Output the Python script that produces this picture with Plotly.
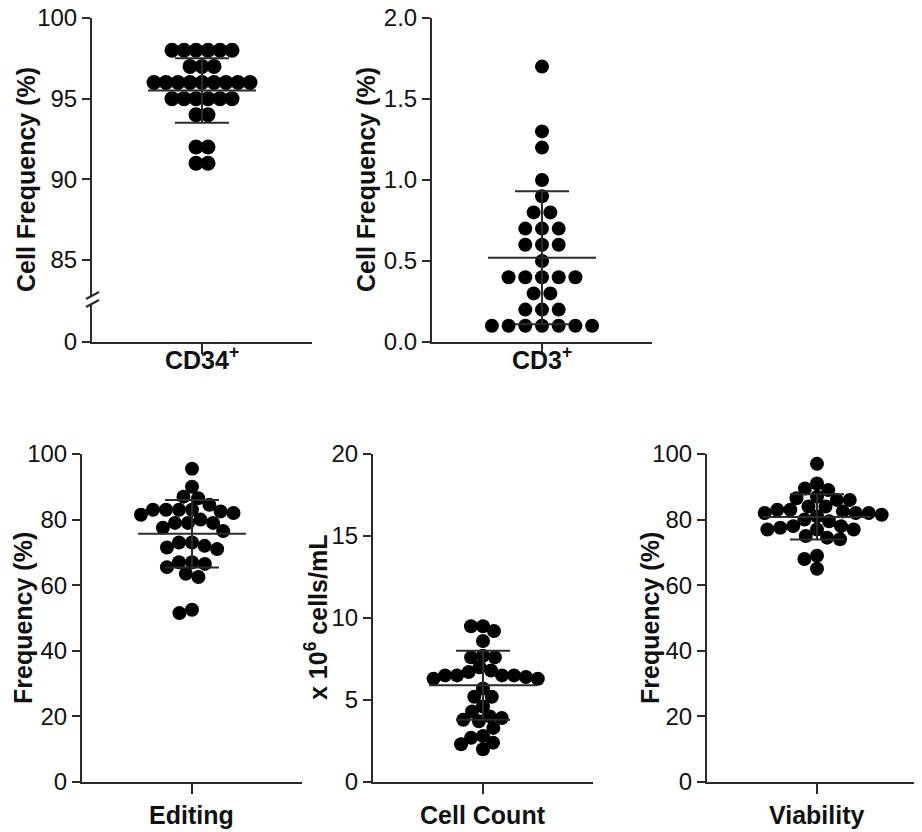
import math
import plotly.graph_objects as go

# ---------------- data ----------------
cd34_values = [98, 98, 98, 98, 98, 98, 97, 97, 97, 96, 96, 96, 96, 96, 96, 96, 96, 96,
               95, 95, 95, 95, 95, 95, 94, 94, 92, 92, 91, 91]
cd3_values = [1.7, 1.3, 1.2, 1.0, 0.9, 0.8, 0.8, 0.7, 0.7, 0.7, 0.6, 0.6, 0.6, 0.5,
              0.4, 0.4, 0.4, 0.4, 0.4, 0.3, 0.3, 0.2, 0.2, 0.2,
              0.1, 0.1, 0.1, 0.1, 0.1, 0.1, 0.1]
editing_values = [95.5, 90, 87, 86.5, 84.5, 83, 83, 83, 82.5, 83, 82, 81.5, 80, 79, 79, 79,
                  77.5, 76.5, 73, 73, 72, 71.5, 71, 67, 67, 66.5, 65.5, 63.5, 62.5, 52.5, 51.5]
cellcount_values = [9.5, 9.5, 9.2, 8.6, 7.7, 7.6, 7.6, 7.0, 6.8, 6.7, 6.5, 6.5, 6.5, 6.5,
                    6.4, 6.3, 6.3, 5.7, 5.2, 5.2, 4.6, 4.3, 4.0, 3.9, 3.8, 3.7, 3.3, 2.8,
                    2.7, 2.4, 2.3, 2.0]
viability_values = [97, 91, 89.5, 89, 87, 86.5, 86, 86, 84, 84, 83, 83, 82.5, 82, 82, 82,
                    81.5, 81, 80, 79.5, 78, 78, 77.5, 77, 77, 77, 75, 74.5, 74, 69, 68, 65]

categories = ["CD34<sup>+</sup>", "CD3<sup>+</sup>", "Editing", "Cell Count", "Viability"]
y_titles = ["Cell Frequency (%)", "Cell Frequency (%)", "Frequency (%)",
            "x 10<sup>6</sup> cells/mL", "Frequency (%)"]
means = [95.5, 0.52, 75.7, 5.9, 80.8]
sds = [2.0, 0.41, 10.3, 2.1, 6.9]

# ---------------- layout helpers ----------------
# the page body has an 8 px margin, so the figure starts at (8, 8) in the window
OFF = 8
FW, FH = 922 - OFF, 832 - OFF
def fx(px):
    return (px - OFF) / FW
def fy(py):
    return 1 - (py - OFF) / FH

PX_PER_X = 110.0  # pixels per x-data unit (x range [-1, 1] over 220 px)
LINE_COL = "#2b2b2b"
DOT_COL = "#000000"
FONT = "Liberation Sans, Arial, sans-serif"


def rows_layout(vals, spacing_px):
    """Centre identical values in symmetric rows."""
    groups = {}
    for i, v in enumerate(vals):
        groups.setdefault(v, []).append(i)
    xs = [0.0] * len(vals)
    for v, idx in groups.items():
        n = len(idx)
        for k, i in enumerate(idx):
            xs[i] = (k - (n - 1) / 2) * spacing_px / PX_PER_X
    return xs


def swarm_layout(vals, ypx_per_unit, d):
    """Greedy beeswarm in pixel space."""
    placed = []
    xs = []
    for v in vals:
        y = v * ypx_per_unit
        ints = []
        for (px, py) in placed:
            dy = abs(py - y)
            if dy < d:
                w = math.sqrt(d * d - dy * dy)
                ints.append((px - w, px + w))
        cands = [0.0] + [a for a, b in ints] + [b for a, b in ints]
        cands.sort(key=lambda c: (round(abs(c), 6), c))
        chosen = 0.0
        for c in cands:
            if all(not (a + 1e-6 < c < b - 1e-6) for a, b in ints):
                chosen = c
                break
        placed.append((chosen, y))
        xs.append(chosen / PX_PER_X)
    return xs


# top-row geometry (window pixels)
y_top, y_85 = 18, 260
p1_scale = (y_85 - y_top) / 15.0
up_bottom, low_top, p1_zero = 296, 304, 342
p2_scale = (342 - y_top) / 2.0

fig = go.Figure()

panel_x = [
    rows_layout(cd34_values, 12.0),
    rows_layout(cd3_values, 16.7),
    swarm_layout(editing_values, 3.274, 13.0),
    swarm_layout(cellcount_values, 16.42, 12.0),
    swarm_layout(viability_values, 3.274, 13.0),
]
panel_vals = [cd34_values, cd3_values, editing_values, cellcount_values, viability_values]
axes = [("x", "y"), ("x2", "y3"), ("x3", "y4"), ("x4", "y5"), ("x5", "y6")]
marker_sizes = [15, 14, 14, 14, 14]

# invisible trace so the lower segment of the broken axis is drawn
fig.add_trace(go.Scatter(x=[0], y=[0], xaxis="x", yaxis="y2", mode="markers",
                         marker=dict(size=1, opacity=0), showlegend=False,
                         hoverinfo="skip"))

for i in range(5):
    xa, ya = axes[i]
    fig.add_trace(go.Scatter(
        x=panel_x[i], y=panel_vals[i], mode="markers", xaxis=xa, yaxis=ya,
        marker=dict(size=marker_sizes[i], color=DOT_COL, line=dict(width=0)),
        cliponaxis=False, showlegend=False, hoverinfo="y"))
    m, s = means[i], sds[i]
    hw_mean = 54 / PX_PER_X
    hw_sd = 27 / PX_PER_X
    fig.add_trace(go.Scatter(x=[-hw_mean, hw_mean], y=[m, m], mode="lines",
                             xaxis=xa, yaxis=ya, line=dict(color=LINE_COL, width=2),
                             cliponaxis=False, showlegend=False, hoverinfo="skip"))
    fig.add_trace(go.Scatter(x=[-hw_sd, hw_sd, None, 0, 0, None, -hw_sd, hw_sd],
                             y=[m + s, m + s, None, m + s, m - s, None, m - s, m - s],
                             mode="lines", xaxis=xa, yaxis=ya,
                             line=dict(color=LINE_COL, width=2),
                             cliponaxis=False, showlegend=False, hoverinfo="skip"))

common_y = dict(showline=True, linecolor=LINE_COL, linewidth=2, ticks="outside",
                ticklen=8, tickwidth=2, tickcolor=LINE_COL, showgrid=False,
                zeroline=False, automargin=False, fixedrange=True,
                ticklabeloverflow="allow",
                tickfont=dict(family=FONT, size=24, color="#111"))
common_x = dict(showline=True, linecolor=LINE_COL, linewidth=2, ticks="outside",
                ticklen=10, tickwidth=2, tickcolor=LINE_COL, showgrid=False,
                zeroline=False, tickvals=[0], showticklabels=False,
                automargin=False, fixedrange=True)

fig.update_layout(
    xaxis=dict(domain=[fx(92), fx(312)], anchor="y2", range=[-1, 1], **common_x),
    yaxis=dict(domain=[fy(up_bottom), fy(y_top)], anchor="x",
               range=[100 - (up_bottom - y_top) / p1_scale, 100],
               tickvals=[85, 90, 95, 100], **common_y),
    yaxis2=dict(domain=[fy(p1_zero), fy(low_top)], anchor="x",
                range=[0, (p1_zero - low_top) / p1_scale], tickvals=[0], **common_y),
    xaxis2=dict(domain=[fx(432), fx(652)], anchor="y3", range=[-1, 1], **common_x),
    yaxis3=dict(domain=[fy(342), fy(y_top)], anchor="x2", range=[0, 2],
                tickvals=[0, 0.5, 1.0, 1.5, 2.0], tickformat=".1f", **common_y),
    xaxis3=dict(domain=[fx(82), fx(302)], anchor="y4", range=[-1, 1], **common_x),
    yaxis4=dict(domain=[fy(782), fy(454)], anchor="x3", range=[0, 100],
                tickvals=[0, 20, 40, 60, 80, 100], **common_y),
    xaxis4=dict(domain=[fx(373), fx(593)], anchor="y5", range=[-1, 1], **common_x),
    yaxis5=dict(domain=[fy(782), fy(454)], anchor="x4", range=[0, 20],
                tickvals=[0, 5, 10, 15, 20], **common_y),
    xaxis5=dict(domain=[fx(707), 1.0], anchor="y6",
                range=[-1, (922 - 707) / PX_PER_X - 1], **common_x),
    yaxis6=dict(domain=[fy(782), fy(454)], anchor="x5", range=[0, 100],
                tickvals=[0, 20, 40, 60, 80, 100], **common_y),
)

for yb in (299, 307):
    fig.add_shape(type="line", xref="paper", yref="paper",
                  x0=fx(86), y0=fy(yb), x1=fx(99), y1=fy(yb - 7),
                  line=dict(color=LINE_COL, width=2))

# y-axis titles
title_pos = [(26, 180), (366, 180), (23, 618), (316, 618), (650, 618)]
for t, (px, py) in zip(y_titles, title_pos):
    fig.add_annotation(text="<b>" + t + "</b>", xref="paper", yref="paper",
                       x=fx(px), y=fy(py), xanchor="center", yanchor="middle",
                       textangle=-90, showarrow=False,
                       font=dict(family=FONT, size=25, color="#111"))

# category labels under each x axis
cat_pos = [(202, 358), (542, 358), (191, 815), (483, 815), (817, 815)]
for t, (px, py) in zip(categories, cat_pos):
    fig.add_annotation(text="<b>" + t + "</b>", xref="paper", yref="paper",
                       x=fx(px), y=fy(py), xanchor="center", yanchor="middle",
                       showarrow=False, font=dict(family=FONT, size=25, color="#111"))

fig.update_layout(width=FW, height=FH,
                  margin=dict(l=0, r=0, t=0, b=0, autoexpand=False),
                  paper_bgcolor="white", plot_bgcolor="white", showlegend=False)

fig.write_html("out.html")
